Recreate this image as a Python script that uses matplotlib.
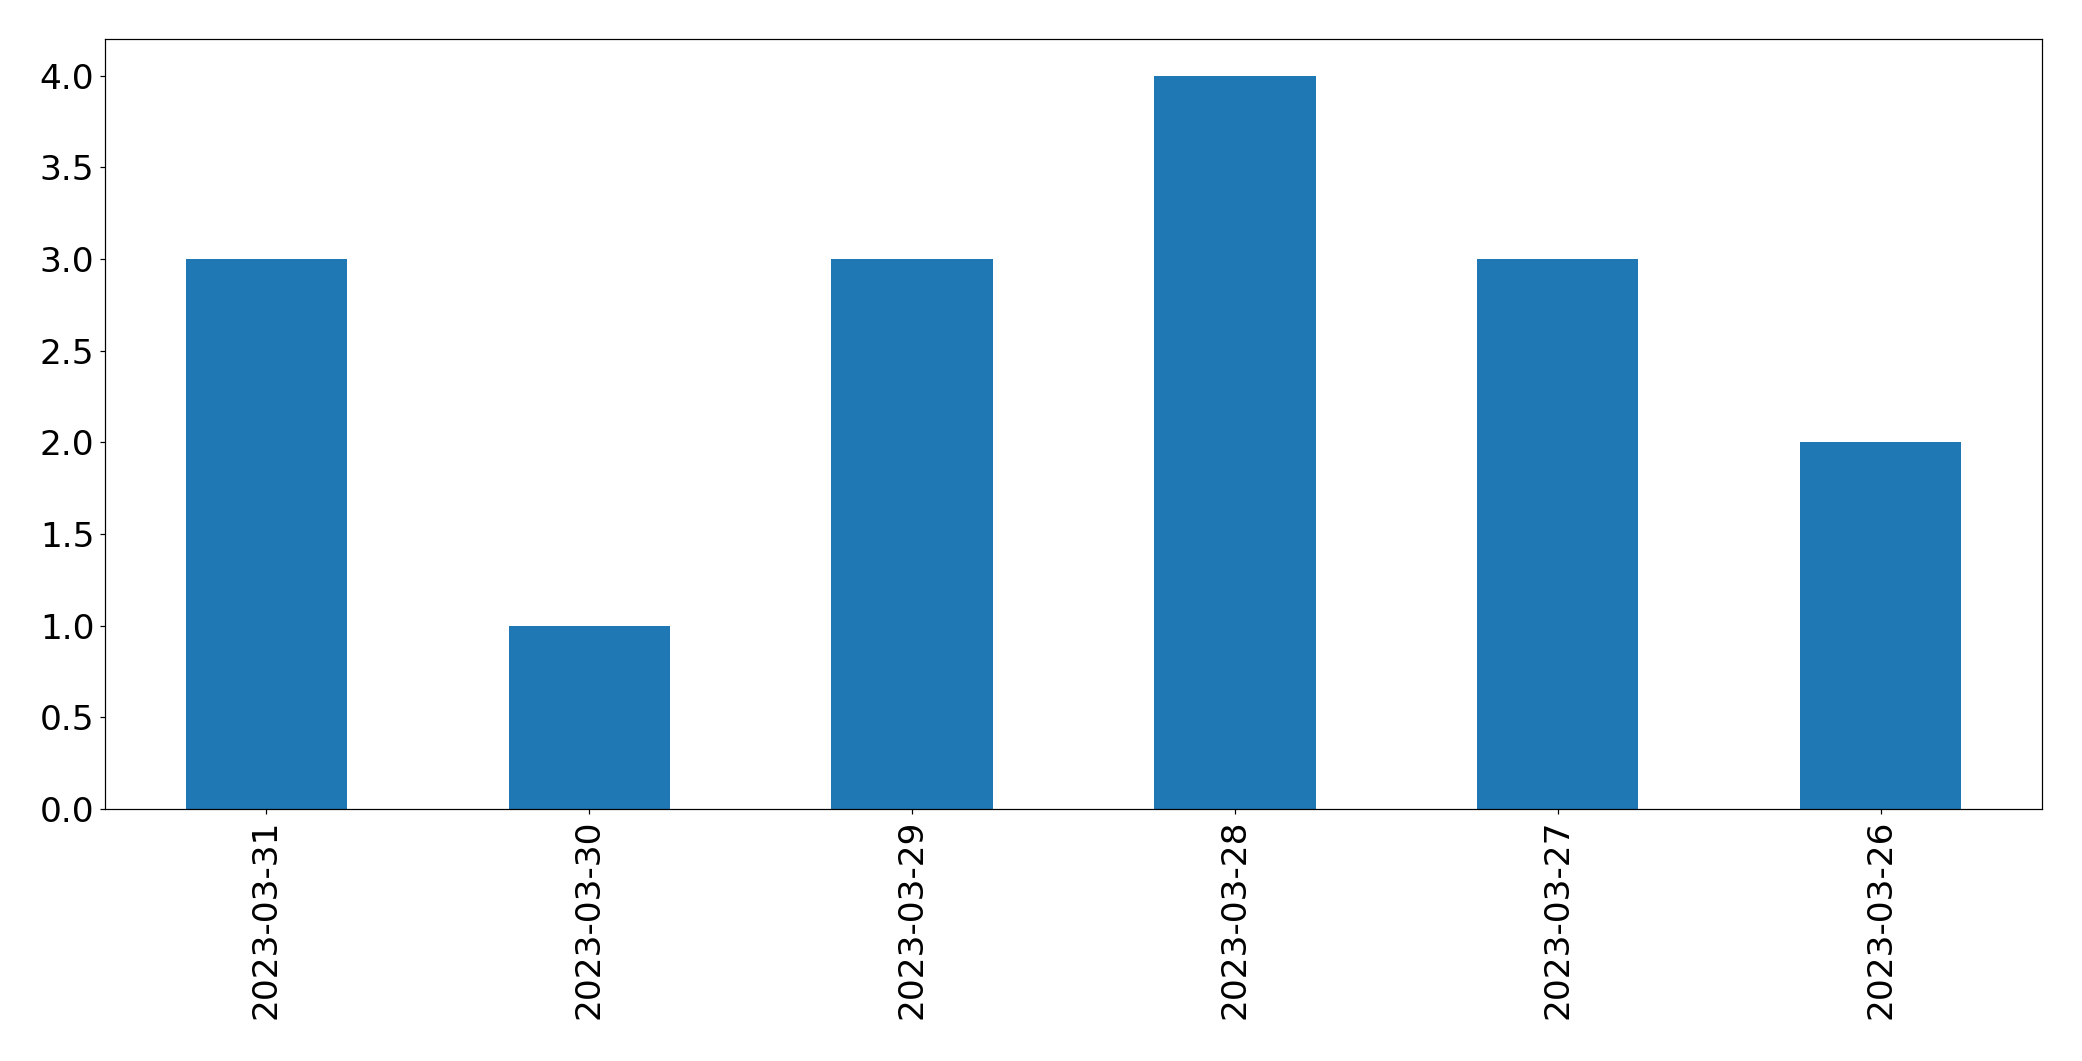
import matplotlib
matplotlib.use('Agg')
import matplotlib.pyplot as plt

dates = ['2023-03-31', '2023-03-30', '2023-03-29', '2023-03-28', '2023-03-27', '2023-03-26']
counts = [3, 1, 3, 4, 3, 2]

dpi = 110
fig = plt.figure(figsize=(2082 / dpi, 1061 / dpi), dpi=dpi)
ax = fig.add_axes([105 / 2082, 1 - 809 / 1061, (2042 - 105) / 2082, (809 - 39) / 1061])

x = list(range(len(dates)))
ax.bar(x, counts, width=0.5, color='#1f77b4')
ax.set_xlim(-0.5, len(dates) - 0.5)
ax.set_ylim(0, 4.2)
ax.set_xticks(x)
ax.set_xticklabels(dates, rotation=90)
ax.tick_params(axis='both', labelsize=22.5)

fig.savefig('out.png', dpi=dpi)
